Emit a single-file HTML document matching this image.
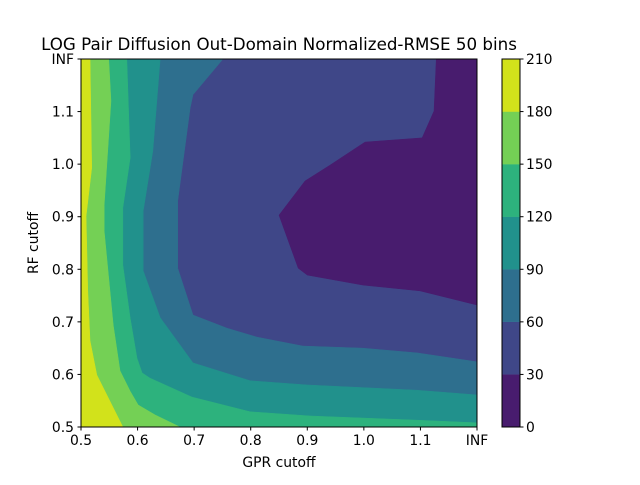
<!DOCTYPE html>
<html><head><meta charset="utf-8"><style>
body{margin:0;background:#fff;font-family:"Liberation Sans","DejaVu Sans",sans-serif}
svg text{font-family:"DejaVu Sans","Liberation Sans",sans-serif;fill:#000}
</style></head><body>
<svg id="chart" width="640" height="480" viewBox="0 0 640 480" xmlns="http://www.w3.org/2000/svg">
<rect width="640" height="480" fill="#fff"/>
<text x="279" y="50" font-size="16.7" text-anchor="middle">LOG Pair Diffusion Out-Domain Normalized-RMSE 50 bins</text>
<g id="plot"></g>
<g id="cbar"></g>
<text x="279" y="467" font-size="13.9" text-anchor="middle">GPR cutoff</text>
<text transform="translate(38,243) rotate(-90)" font-size="13.9" text-anchor="middle">RF cutoff</text>
</svg>
<script>
const xTickLabels=["0.5","0.6","0.7","0.8","0.9","1.0","1.1","INF"];
const yTickLabels=["0.5","0.6","0.7","0.8","0.9","1.0","1.1","INF"];
const levels=[0,30,60,90,120,150,180,210];
const bandColors=["#481c6e","#3f4788","#2e6f8e","#21918c","#2db27d","#74d055","#d2e21b"];
// contour lines in index coordinates (x index, y index)
const c30=[[6.28,7],[6.24,6.01],[6.03,5.5],[5.02,5.42],[4.4,4.98],[3.96,4.68],[3.5,4.03],[3.84,3.02],[4.0,2.89],[4.98,2.7],[5.99,2.59],[7,2.32]];
const c60=[[2.51,7],[1.98,6.32],[1.93,6.07],[1.71,4.3],[1.71,3.02],[1.98,2.13],[2.58,1.88],[3.11,1.71],[3.92,1.54],[4.98,1.5],[5.94,1.41],[7,1.24]];
const c90=[[1.4,7],[1.27,5.25],[1.1,4.11],[1.1,2.97],[1.4,2.08],[1.98,1.22],[2.99,0.88],[4.0,0.8],[5.94,0.7],[7,0.61]];
const c120=[[0.81,7],[0.87,5.12],[0.74,4.17],[0.74,3.08],[0.87,2.07],[0.99,1.31],[1.08,1.03],[1.22,0.93],[1.96,0.57],[2.99,0.29],[4.05,0.21],[5.94,0.13],[7,0.08]];
const c150=[[0.49,7],[0.53,6.2],[0.41,4.22],[0.41,3.73],[0.57,1.94],[0.69,1.07],[0.87,0.68],[1.01,0.42],[1.31,0.23],[1.75,0]];
const c180=[[0.16,7],[0.19,4.93],[0.09,4.01],[0.12,2.59],[0.16,1.64],[0.28,0.99],[0.74,0]];
const X0=81,X1=477,Y0=427,Y1=59;
const sx=v=>X0+(X1-X0)*v/7, sy=v=>Y0-(Y0-Y1)*v/7;
const NS="http://www.w3.org/2000/svg";
function mk(t,a,p){const e=document.createElementNS(NS,t);for(const k in a)e.setAttribute(k,a[k]);p.appendChild(e);return e;}
const plot=document.getElementById('plot');
const bg=mk('rect',{x:X0,y:Y1,width:X1-X0,height:Y0-Y1,fill:bandColors[1]},plot);


function poly(pts,color,name){
  const e=mk('polygon',{points:pts.map(p=>sx(p[0])+','+sy(p[1])).join(' '),fill:color,stroke:color,'stroke-width':0.5},plot);
  
  
}
poly(c30.concat([[7,7]]),bandColors[0],'band-0-30');
poly(c60.concat([[7,0],[0,0],[0,7]]),bandColors[2],'band-60-90');
poly(c90.concat([[7,0],[0,0],[0,7]]),bandColors[3],'band-90-120');
poly(c120.concat([[7,0],[0,0],[0,7]]),bandColors[4],'band-120-150');
poly(c150.concat([[0,0],[0,7]]),bandColors[5],'band-150-180');
poly(c180.concat([[0,0],[0,7]]),bandColors[6],'band-180-210');
const fr=mk('rect',{x:X0,y:Y1,width:X1-X0,height:Y0-Y1,fill:'none',stroke:'#000','stroke-width':1},plot);


xTickLabels.forEach((l,i)=>{
  mk('line',{x1:sx(i),x2:sx(i),y1:Y0,y2:Y0+3.5,stroke:'#000'},plot);
  const t=mk('text',{x:sx(i),y:Y0+18,'font-size':13.9,'text-anchor':'middle'},plot);t.textContent=l;
  
  
});
yTickLabels.forEach((l,i)=>{
  mk('line',{x1:X0,x2:X0-3.5,y1:sy(i),y2:sy(i),stroke:'#000'},plot);
  const t=mk('text',{x:X0-7,y:sy(i)+5,'font-size':13.9,'text-anchor':'end'},plot);t.textContent=l;
  
  
});
const cb=document.getElementById('cbar');
const CX=502,CW=18,n=bandColors.length,cy=v=>Y0-(Y0-Y1)*(v-levels[0])/(levels[n]-levels[0]);
bandColors.forEach((c,i)=>{
  const r=mk('rect',{x:CX,y:cy(levels[i+1]),width:CW,height:cy(levels[i])-cy(levels[i+1]),fill:c,stroke:c,'stroke-width':0.3},cb);
  
  
});
mk('rect',{x:CX,y:Y1,width:CW,height:Y0-Y1,fill:'none',stroke:'#000'},cb);
levels.forEach(v=>{
  mk('line',{x1:CX+CW,x2:CX+CW+3.5,y1:cy(v),y2:cy(v),stroke:'#000'},cb);
  const t=mk('text',{x:CX+CW+6,y:cy(v)+5,'font-size':13.9},cb);t.textContent=v;
  
  
});
</script>
</body></html>
